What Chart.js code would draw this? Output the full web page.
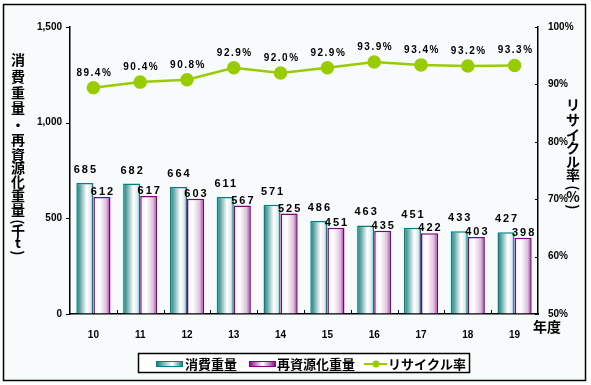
<!DOCTYPE html>
<html>
<head>
<meta charset="utf-8">
<script src="https://cdn.jsdelivr.net/npm/chart.js@4.4.0/dist/chart.umd.min.js"></script>
<style>
  html, body { margin: 0; padding: 0; background: #ffffff; }
  #wrap { position: relative; width: 591px; height: 385px; }
</style>
</head>
<body>
<div id="wrap"><canvas id="c" width="591" height="385"></canvas></div>
<script>
// ---------- data ----------
const years = ['10', '11', '12', '13', '14', '15', '16', '17', '18', '19'];
const consumed = [685, 682, 664, 611, 571, 486, 463, 451, 433, 427];   // 消費重量
const recycled = [612, 617, 603, 567, 525, 451, 435, 422, 403, 398];   // 再資源化重量
const rate = [89.4, 90.4, 90.8, 92.9, 92.0, 92.9, 93.9, 93.4, 93.2, 93.3]; // リサイクル率
const leftTicks = [0, 500, 1000, 1500];
const rightTicks = [50, 60, 70, 80, 90, 100];

const JP = '"Noto Sans CJK JP", sans-serif';
const NUM = '"Liberation Sans", Arial, sans-serif';
const BAR_PCT = 0.73;

// ---------- gradient fills for the cylinder-ish bars ----------
function barFill(which) {
  return (c) => {
    const ch = c.chart, xs = ch.scales.x;
    if (!ch.chartArea || !xs || c.dataIndex === undefined) return which ? '#800080' : '#008080';
    const cx = xs.getPixelForValue(c.dataIndex);
    const w = (xs.width / years.length) * BAR_PCT / 2;
    const x0 = which ? cx : cx - w;
    const g = ch.ctx.createLinearGradient(x0, 0, x0 + w, 0);
    if (!which) {
      g.addColorStop(0, '#0b7c7c');
      g.addColorStop(0.2, '#5fa3a3');
      g.addColorStop(0.6, '#ffffff');
      g.addColorStop(0.82, '#e4ecec');
      g.addColorStop(1, '#7fa2a2');
    } else {
      g.addColorStop(0, '#f3eaf3');
      g.addColorStop(0.35, '#ffffff');
      g.addColorStop(0.75, '#dcc2dc');
      g.addColorStop(1, '#8c3c8c');
    }
    return g;
  };
}

// draws a text column, turning parentheses sideways like vertical writing
function drawColumn(ctx, chars, x, ys) {
  chars.forEach((ch, i) => {
    if (ch === '(' || ch === ')') {
      ctx.save();
      ctx.translate(x, ys[i]);
      ctx.rotate(Math.PI / 2);
      ctx.fillText(ch, 0, 0);
      ctx.restore();
    } else {
      ctx.fillText(ch, x, ys[i]);
    }
  });
}

// ---------- extras: frame, tick marks, labels, titles, legend ----------
const extras = {
  id: 'extras',
  beforeDraw(chart) {
    const ctx = chart.ctx;
    ctx.save();
    ctx.fillStyle = '#f8fbfb';
    ctx.fillRect(3, 4, 583, 377);
    ctx.strokeStyle = '#000';
    ctx.lineWidth = 1.5;
    ctx.strokeRect(3.5, 4.5, 582, 376);
    ctx.restore();
  },
  afterDatasetsDraw(chart) {
    const ctx = chart.ctx;
    const { x, y, y2 } = chart.scales;
    const area = chart.chartArea;
    ctx.save();
    ctx.strokeStyle = '#000';
    ctx.lineWidth = 1;
    // left ticks outward
    leftTicks.forEach(v => {
      const py = Math.round(y.getPixelForValue(v)) + 0.5;
      ctx.beginPath(); ctx.moveTo(area.left - 4, py); ctx.lineTo(area.left, py); ctx.stroke();
    });
    // right ticks inward
    rightTicks.forEach(v => {
      const py = Math.round(y2.getPixelForValue(v)) + 0.5;
      ctx.beginPath(); ctx.moveTo(area.right - 3, py); ctx.lineTo(area.right, py); ctx.stroke();
    });
    // category separators on x axis
    const step = x.width / years.length;
    for (let i = 1; i < years.length; i++) {
      const px = Math.round(area.left + step * i) + 0.5;
      ctx.beginPath(); ctx.moveTo(px, area.bottom - 4); ctx.lineTo(px, area.bottom); ctx.stroke();
    }

    // value labels
    ctx.fillStyle = '#000';
    ctx.textAlign = 'center';
    ctx.textBaseline = 'middle';
    ctx.font = 'bold 11px ' + NUM;
    ctx.letterSpacing = '2px';
    chart.getDatasetMeta(0).data.forEach((el, i) => {
      ctx.fillText(String(consumed[i]), el.x + 1, el.y - 13);
    });
    chart.getDatasetMeta(1).data.forEach((el, i) => {
      ctx.fillText(String(recycled[i]), el.x + 1, el.y - 5);
    });
    ctx.font = 'bold 10px ' + NUM;
    ctx.letterSpacing = '1.5px';
    chart.getDatasetMeta(2).data.forEach((el, i) => {
      ctx.fillText(rate[i].toFixed(1) + '%', el.x + 1, el.y - 15);
    });
    ctx.letterSpacing = '0px';

    // vertical axis titles
    ctx.font = 'bold 14px ' + JP;
    const leftTitle = ['消', '費', '重', '量', '・', '再', '資', '源', '化', '重', '量', '(', '千', 't', ')'];
    const leftY = [60, 77, 93, 108, 125, 140, 155, 168, 182, 196, 210, 222, 231, 243, 253];
    drawColumn(ctx, leftTitle, 18, leftY);
    const rightTitle = ['リ', 'サ', 'イ', 'ク', 'ル', '率', '(', '%', ')'];
    const rightY = [105, 120, 135, 148, 162, 175, 188, 197, 207];
    drawColumn(ctx, rightTitle, 573, rightY);
    ctx.fillText('年度', 547, 327);

    // legend
    ctx.fillStyle = '#ffffff';
    ctx.fillRect(138, 353, 332, 20);
    ctx.strokeStyle = '#000';
    ctx.lineWidth = 1.5;
    ctx.strokeRect(138.5, 353.5, 331, 19);
    const lg1 = ctx.createLinearGradient(156, 0, 183, 0);
    lg1.addColorStop(0, '#0b7c7c'); lg1.addColorStop(0.6, '#ffffff'); lg1.addColorStop(1, '#0b7c7c');
    ctx.fillStyle = lg1; ctx.fillRect(156, 361, 27, 6);
    ctx.strokeStyle = '#008080'; ctx.lineWidth = 1; ctx.strokeRect(156.5, 361.5, 26, 5);
    const lg2 = ctx.createLinearGradient(249, 0, 276, 0);
    lg2.addColorStop(0, '#800080'); lg2.addColorStop(0.5, '#ffffff'); lg2.addColorStop(1, '#800080');
    ctx.fillStyle = lg2; ctx.fillRect(249, 361, 27, 6);
    ctx.strokeStyle = '#800080'; ctx.strokeRect(249.5, 361.5, 26, 5);
    ctx.strokeStyle = '#99cc00'; ctx.lineWidth = 2;
    ctx.beginPath(); ctx.moveTo(364, 364); ctx.lineTo(387, 364); ctx.stroke();
    ctx.fillStyle = '#99cc00';
    ctx.beginPath(); ctx.arc(376, 364, 3.5, 0, Math.PI * 2); ctx.fill();
    ctx.fillStyle = '#000';
    ctx.textAlign = 'left';
    ctx.font = 'bold 13px ' + JP;
    ctx.fillText('消費重量', 185, 364);
    ctx.fillText('再資源化重量', 277, 364);
    ctx.fillText('リサイクル率', 388, 364);
    ctx.restore();
  }
};

// ---------- chart ----------
const chart = new Chart(document.getElementById('c').getContext('2d'), {
  data: {
    labels: years,
    datasets: [
      {
        type: 'bar', label: '消費重量', data: consumed, yAxisID: 'y', order: 2,
        backgroundColor: barFill(0), borderColor: '#008080', borderWidth: 1.5,
        categoryPercentage: BAR_PCT, barPercentage: 1.0
      },
      {
        type: 'bar', label: '再資源化重量', data: recycled, yAxisID: 'y', order: 2,
        backgroundColor: barFill(1), borderColor: '#800080', borderWidth: 1.5,
        categoryPercentage: BAR_PCT, barPercentage: 1.0
      },
      {
        type: 'line', label: 'リサイクル率', data: rate, yAxisID: 'y2', order: 0,
        borderColor: '#99cc00', backgroundColor: '#99cc00', borderWidth: 2.5,
        pointRadius: 5.5, pointBackgroundColor: '#99cc00', pointBorderColor: '#99cc00',
        tension: 0
      }
    ]
  },
  options: {
    responsive: false,
    devicePixelRatio: 1,
    animation: false,
    layout: { padding: { top: 27, left: 0, right: 0, bottom: 0 } },
    plugins: { legend: { display: false }, tooltip: { enabled: false } },
    scales: {
      x: {
        offset: true,
        grid: { display: false },
        border: { color: '#000', width: 1.5 },
        ticks: { color: '#000', font: { family: NUM, size: 10, weight: 'bold' }, padding: 7 },
        afterFit: (s) => { s.height = 71; }
      },
      y: {
        position: 'left', min: 0, max: 1500,
        grid: { drawOnChartArea: false, drawTicks: false },
        border: { color: '#000', width: 1.5 },
        afterBuildTicks: (s) => { s.ticks = leftTicks.map(v => ({ value: v })); },
        ticks: {
          color: '#000', padding: 8,
          font: { family: NUM, size: 10, weight: 'bold' },
          callback: (v) => v.toLocaleString('en-US')
        },
        afterFit: (s) => { s.width = 70; }
      },
      y2: {
        position: 'right', min: 50, max: 100,
        grid: { drawOnChartArea: false, drawTicks: false },
        border: { color: '#000', width: 1.5 },
        afterBuildTicks: (s) => { s.ticks = rightTicks.map(v => ({ value: v })); },
        ticks: {
          color: '#000', padding: 10,
          font: { family: NUM, size: 10, weight: 'bold' },
          callback: (v) => v + '%'
        },
        afterFit: (s) => { s.width = 53; }
      }
    }
  },
  plugins: [extras]
});
</script>
</body>
</html>
